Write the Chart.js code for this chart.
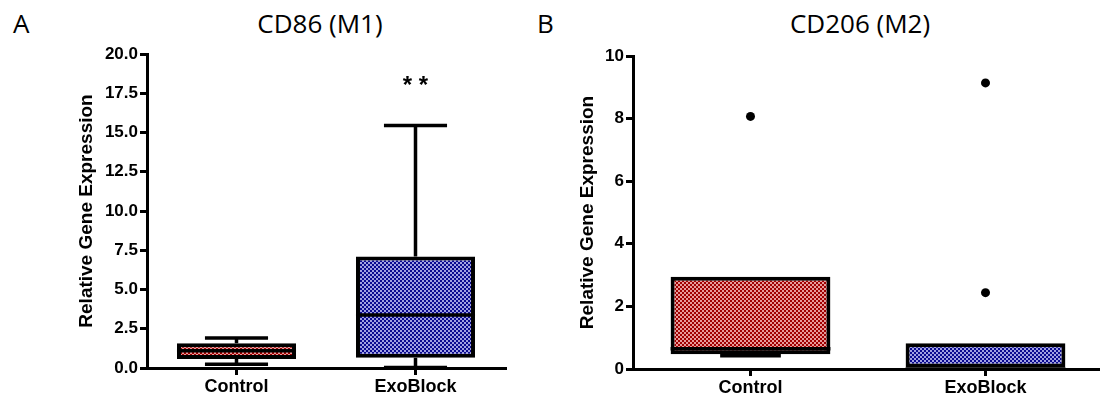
<!DOCTYPE html>
<html>
<head>
<meta charset="utf-8">
<script src="https://cdn.jsdelivr.net/npm/chart.js@4.4.1/dist/chart.umd.min.js"></script>
<style>
  body { margin: 0; width: 1100px; height: 400px; overflow: hidden; position: relative; background: #fff; }
  .txt { position: absolute; top: 10px; font-family: 'Open Sans', sans-serif; font-size: 26px; line-height: 26px; color: #000; white-space: nowrap; }
  .ttl { width: 240px; text-align: center; }
  canvas { position: absolute; top: 0; }
</style>
</head>
<body>
<div class="txt" style="left:13px">A</div>
<div class="txt ttl" style="left:200px">CD86 (M1)</div>
<div class="txt" style="left:537px">B</div>
<div class="txt ttl" style="left:740px">CD206 (M2)</div>
<canvas id="cd86" width="550" height="400" style="left:0"></canvas>
<canvas id="cd206" width="560" height="400" style="left:550px"></canvas>
<script>
const groups = ['Control', 'ExoBlock'];

// CD86 (M1) box plot stats
const cd86Min = [0.24, 0.03];
const cd86Q1 = [0.57, 0.66];
const cd86Median = [1.10, 3.38];
const cd86Q3 = [1.57, 7.10];
const cd86Max = [1.91, 15.45];
const cd86Ticks = [0, 2.5, 5, 7.5, 10, 12.5, 15, 17.5, 20];
const cd86Sig = ['', '* *'];

// CD206 (M2) box plot stats
const cd206Min = [0.42, 0];
const cd206Q1 = [0.47, 0];
const cd206Median = [0.65, 0];
const cd206Q3 = [2.95, 0.82];
const cd206Max = [2.95, 0.82];
const cd206OutlierGroup = ['Control', 'ExoBlock', 'ExoBlock'];
const cd206OutlierValue = [8.07, 9.14, 2.44];
const cd206Ticks = [0, 2, 4, 6, 8, 10];

const fontFam = "'Liberation Sans', Arial, sans-serif";

function checker(dark, light) {
  const c = document.createElement('canvas');
  c.width = 4; c.height = 4;
  const g = c.getContext('2d');
  g.fillStyle = light;
  g.fillRect(0, 0, 4, 4);
  g.fillStyle = dark;
  g.fillRect(0, 0, 2, 2);
  g.fillRect(2, 2, 2, 2);
  return g.createPattern(c, 'repeat');
}
const redFill = checker('#a00000', '#e89a9a');
const blueFill = checker('#0a0a90', '#a0a0e2');

// whiskers behind the boxes, medians + stars on top
const boxPlot = {
  id: 'boxPlot',
  beforeDatasetsDraw(chart, args, o) {
    const ctx = chart.ctx, y = chart.scales.y;
    ctx.save();
    ctx.strokeStyle = '#000';
    ctx.lineWidth = 3.5;
    chart.getDatasetMeta(0).data.forEach((bar, i) => {
      const half = bar.width * o.cap / 2;
      const seg = (from, to) => {
        if (to === from) return;
        const a = y.getPixelForValue(from), b = y.getPixelForValue(to);
        ctx.beginPath();
        ctx.moveTo(bar.x, a); ctx.lineTo(bar.x, b);
        ctx.moveTo(bar.x - half, b); ctx.lineTo(bar.x + half, b);
        ctx.stroke();
      };
      seg(o.q3[i], o.max[i]);
      seg(o.q1[i], o.min[i]);
    });
    ctx.restore();
  },
  afterDatasetsDraw(chart, args, o) {
    const ctx = chart.ctx, y = chart.scales.y;
    ctx.save();
    ctx.strokeStyle = '#000';
    ctx.lineWidth = 3.5;
    chart.getDatasetMeta(0).data.forEach((bar, i) => {
      const py = y.getPixelForValue(o.median[i]);
      ctx.beginPath();
      ctx.moveTo(bar.x - bar.width / 2, py);
      ctx.lineTo(bar.x + bar.width / 2, py);
      ctx.stroke();
      if (o.sig && o.sig[i]) {
        ctx.fillStyle = '#000';
        ctx.font = 'bold 24px ' + fontFam;
        ctx.textAlign = 'center';
        ctx.textBaseline = 'alphabetic';
        ctx.fillText(o.sig[i], bar.x, y.getPixelForValue(o.sigAt));
      }
    });
    ctx.restore();
  }
};

function makeChart(id, s) {
  const datasets = [{
    data: groups.map((g, i) => [s.q1[i], s.q3[i]]),
    backgroundColor: [redFill, blueFill],
    borderColor: '#000',
    borderWidth: 4,
    borderSkipped: false,
    barPercentage: s.barPct,
    categoryPercentage: 1
  }];
  if (s.outGroup) {
    datasets.push({
      type: 'line',
      data: s.outGroup.map((g, i) => ({ x: g, y: s.outValue[i] })),
      showLine: false,
      pointRadius: 4.5,
      pointBackgroundColor: '#000',
      pointBorderWidth: 0
    });
  }
  return new Chart(document.getElementById(id), {
    type: 'bar',
    data: { labels: groups, datasets: datasets },
    plugins: [boxPlot],
    options: {
      responsive: false,
      animation: false,
      layout: { padding: s.pad },
      plugins: {
        legend: { display: false },
        tooltip: { enabled: false },
        boxPlot: { q1: s.q1, q3: s.q3, min: s.min, max: s.max, median: s.median, cap: s.cap, sig: s.sig, sigAt: s.sigAt }
      },
      scales: {
        x: {
          grid: { offset: false, drawOnChartArea: false, color: '#000', lineWidth: 3, tickLength: 7 },
          border: { color: '#000', width: 3 },
          ticks: { color: '#000', padding: 1, font: { family: fontFam, size: 18, weight: 'bold' } },
          afterFit: sc => { sc.height = s.xH; }
        },
        y: {
          min: 0,
          max: s.ticks[s.ticks.length - 1],
          afterBuildTicks: sc => { sc.ticks = s.ticks.map(v => ({ value: v })); },
          grid: { drawOnChartArea: false, color: '#000', lineWidth: 3, tickLength: 7 },
          border: { color: '#000', width: 3 },
          ticks: { color: '#000', padding: 2, font: { family: fontFam, size: 17, weight: 'bold' },
                   callback: v => s.dec ? v.toFixed(1) : String(v) },
          title: { display: true, text: 'Relative Gene Expression', color: '#000',
                   font: { family: fontFam, size: 19, weight: 'bold' } },
          afterFit: sc => { sc.width = s.yW; }
        }
      }
    }
  });
}

makeChart('cd86', {
  q1: cd86Q1, q3: cd86Q3, min: cd86Min, max: cd86Max, median: cd86Median,
  ticks: cd86Ticks, dec: true, sig: cd86Sig, sigAt: 17.5,
  cap: 0.53, barPct: 0.665,
  pad: { left: 71, right: 45, top: 54, bottom: 0 }, yW: 76, xH: 32
});

makeChart('cd206', {
  q1: cd206Q1, q3: cd206Q3, min: cd206Min, max: cd206Max, median: cd206Median,
  ticks: cd206Ticks, dec: false,
  outGroup: cd206OutlierGroup, outValue: cd206OutlierValue,
  cap: 0.38, barPct: 0.68,
  pad: { left: 22, right: 7, top: 56, bottom: 0 }, yW: 61, xH: 31
});
</script>
</body>
</html>
